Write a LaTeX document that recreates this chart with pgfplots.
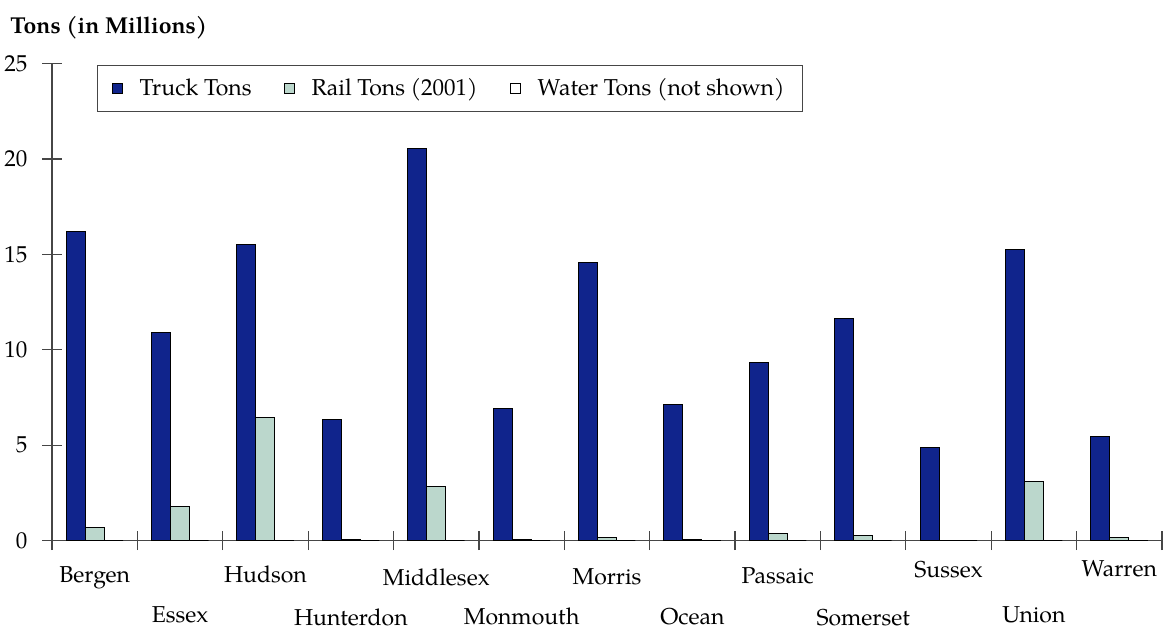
\documentclass[border=0pt]{standalone}
\usepackage{fontspec}
\setmainfont{TeX Gyre Pagella}
\usepackage{pgfplots}
\pgfplotsset{compat=1.18}
\definecolor{truck}{RGB}{16,36,140}
\definecolor{rail}{RGB}{187,215,204}
\definecolor{axisgray}{RGB}{70,70,70}
\newcommand{\fs}{\fontsize{11.5}{13.8}\selectfont}
\pgfplotsset{
  sqlegend/.style={legend image code/.code={%
    \draw[##1, line width=0.5pt] (0pt,-2.5pt) rectangle (5pt,2.5pt); \path (11.5pt,0pt);}},
  bars/.style={ybar, bar width=0.2225, draw=black, line width=0.5pt, sqlegend},
}
\begin{document}
\begin{tikzpicture}
\begin{axis}[
  scale only axis, width=555pt, height=238.5pt,
  xmin=-0.5, xmax=12.5, ymin=0, ymax=25,
  axis x line=bottom, axis y line=left,
  axis line style={-, axisgray, line width=0.6pt},
  ytick={0,5,...,25},
  tick align=center, major tick length=9.5pt, minor tick length=9.5pt,
  tick style={axisgray, line width=0.6pt},
  xtick={0,2,...,12},
  xticklabels={Bergen,Hudson,\raisebox{-1.5pt}{Middlesex},\raisebox{-1pt}{Morris},\raisebox{-0.5pt}{Passaic},\raisebox{2.5pt}{Sussex},\raisebox{3pt}{Warren}},
  extra x ticks={1,3,...,11},
  extra x tick labels={Essex,\raisebox{-1.5pt}{Hunterdon},\raisebox{-1.2pt}{Monmouth},\raisebox{-1.2pt}{Ocean},\raisebox{-1.5pt}{Somerset},\raisebox{-0.3pt}{Union}},
  extra x tick style={major tick length=0pt, x tick label style={yshift=-24.75pt}},
  major x tick style={draw=none},
  minor xtick={-0.5,0.5,...,12.5},
  x tick label style={anchor=base, yshift=-16pt},
  y tick label style={anchor=east, xshift=-4pt},
  tick label style={font=\fs},
  /pgf/number format/assume math mode=true,
  legend style={at={(axis description cs:0.0405,0.997)}, anchor=north west,
    legend columns=3, draw=axisgray, line width=0.6pt, font=\fs,
    inner xsep=7pt, inner ysep=4.5pt,
    /tikz/every even column/.append style={column sep=14pt}},
  legend cell align=left,
  clip=false,
]
\addplot[bars, bar shift=-0.2225, fill=truck]
  coordinates {(0,16.19) (1,10.92) (2,15.53) (3,6.34) (4,20.57) (5,6.90) (6,14.59)
               (7,7.11) (8,9.32) (9,11.63) (10,4.86) (11,15.27) (12,5.47)};
\addlegendentry{Truck Tons}
\addplot[bars, bar shift=0, fill=rail]
  coordinates {(0,0.70) (1,1.80) (2,6.46) (3,0.05) (4,2.83) (5,0.05) (6,0.16)
               (7,0.05) (8,0.35) (9,0.25) (10,0) (11,3.11) (12,0.16)};
\addlegendentry{Rail Tons (2001)}
\addplot[bars, bar shift=0.2225, fill=white]
  coordinates {(0,0) (1,0) (2,0) (3,0) (4,0) (5,0) (6,0)
               (7,0) (8,0) (9,0) (10,0) (11,0) (12,0)};
\addlegendentry{Water Tons (not shown)}
\coordinate (o) at (rel axis cs:0,0);
\end{axis}
\node[anchor=base west, font=\fs\bfseries, inner sep=0pt] at ([shift={(-21pt,253.75pt)}]o) {Tons (in Millions)};
\pgfresetboundingbox
\path[use as bounding box] ([shift={(-26pt,-44.25pt)}]o) rectangle ([shift={(556pt,270.25pt)}]o);
\end{tikzpicture}
\end{document}
